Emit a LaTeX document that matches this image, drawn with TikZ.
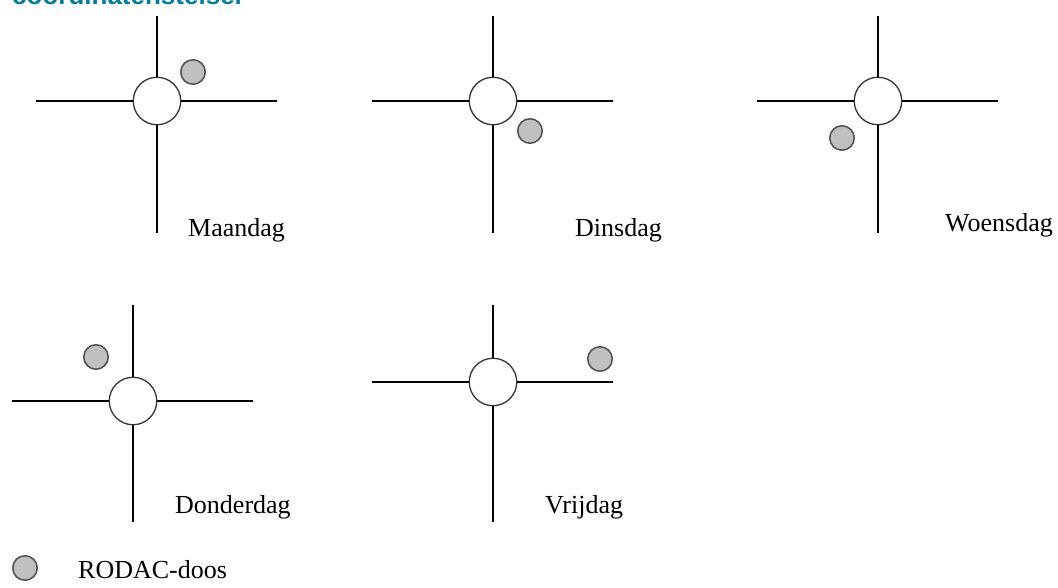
\documentclass[tikz,border=0pt]{standalone}
\usepackage{fontspec}
\setmainfont{Liberation Serif}
\newfontfamily\titlefont{Liberation Sans}
\definecolor{titleblue}{RGB}{0,125,160}
\definecolor{dotfill}{RGB}{192,192,192}
\definecolor{dotline}{RGB}{80,80,80}
\begin{document}
\begin{tikzpicture}[x=1pt,y=-1pt,
  axis/.style={line width=1.6pt, black},
  hub/.style={circle, draw=black!80, line width=1.3pt, fill=white, minimum size=47.5pt, inner sep=0pt},
  dot/.style={circle, draw=dotline, line width=1.5pt, fill=dotfill, minimum size=24.5pt, inner sep=0pt},
  day/.style={anchor=base west, inner sep=0pt, font=\fontsize{26}{30}\selectfont},
  title/.style={anchor=base west, inner sep=0pt, text=titleblue, font=\titlefont\bfseries\fontsize{26}{30}\selectfont}]
\useasboundingbox (0,0) rectangle (1058,588);
\clip (0,0) rectangle (1058,588);

\node[title] (title) at (12,5) {coordinatenstelsel};

% Maandag
\coordinate (m-n) at (157,16); \coordinate (m-s) at (157,233);
\coordinate (m-w) at (36,101); \coordinate (m-e) at (277,101);
\draw[axis] (m-n) -- (m-s); \draw[axis] (m-w) -- (m-e);
\node[hub] (m-hub) at (157,101) {};
\node[dot] (m-dot) at (193,72) {};
\node[day] (m-lbl) at (188,237) {Maandag};

% Dinsdag
\coordinate (d-n) at (493,16); \coordinate (d-s) at (493,233);
\coordinate (d-w) at (372,101); \coordinate (d-e) at (613,101);
\draw[axis] (d-n) -- (d-s); \draw[axis] (d-w) -- (d-e);
\node[hub] (d-hub) at (493,101) {};
\node[dot] (d-dot) at (530,131) {};
\node[day] (d-lbl) at (575,237) {Dinsdag};

% Woensdag
\coordinate (w-n) at (878,16); \coordinate (w-s) at (878,233);
\coordinate (w-w) at (757,101); \coordinate (w-e) at (998,101);
\draw[axis] (w-n) -- (w-s); \draw[axis] (w-w) -- (w-e);
\node[hub] (w-hub) at (878,101) {};
\node[dot] (w-dot) at (842,138) {};
\node[day] (w-lbl) at (945,232) {Woensdag};

% Donderdag
\coordinate (o-n) at (133,305); \coordinate (o-s) at (133,522);
\coordinate (o-w) at (12,401); \coordinate (o-e) at (253,401);
\draw[axis] (o-n) -- (o-s); \draw[axis] (o-w) -- (o-e);
\node[hub] (o-hub) at (133,401) {};
\node[dot] (o-dot) at (96,357) {};
\node[day] (o-lbl) at (175,513) {Donderdag};

% Vrijdag
\coordinate (v-n) at (493,305); \coordinate (v-s) at (493,522);
\coordinate (v-w) at (372,382); \coordinate (v-e) at (613,382);
\draw[axis] (v-n) -- (v-s); \draw[axis] (v-w) -- (v-e);
\node[hub] (v-hub) at (493,382) {};
\node[dot] (v-dot) at (600,359) {};
\node[day] (v-lbl) at (545,513) {Vrijdag};

% Legend
\node[dot] (leg-dot) at (25,568) {};
\node[day] (leg-lbl) at (78,578) {RODAC-doos};
\end{tikzpicture}
\end{document}
